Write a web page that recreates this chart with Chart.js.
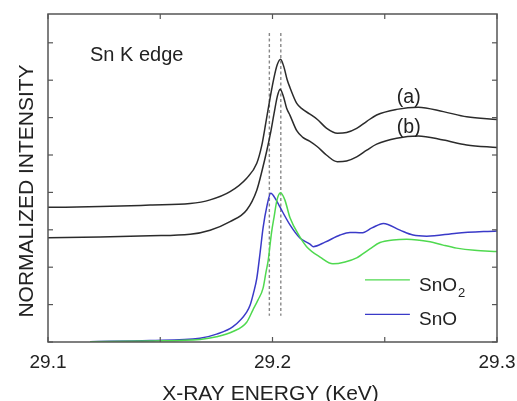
<!DOCTYPE html>
<html>
<head>
<meta charset="utf-8">
<script src="https://cdn.jsdelivr.net/npm/chart.js@4.4.1/dist/chart.umd.min.js"></script>
<style>
html,body{margin:0;padding:0;background:#fff;}
#wrap{width:517px;height:401px;}
</style>
</head>
<body>
<div id="wrap"><canvas id="c" width="517" height="401"></canvas></div>
<script>
// ---- Data ----
const energyA = [29.1000,29.1232,29.1455,29.1633,29.1722,29.1811,29.1885,29.1930,29.1952,29.1970,29.1990,29.2006,29.2021,29.2036,29.2051,29.2065,29.2078,29.2108,29.2135,29.2165,29.2200,29.2240,29.2289,29.2330,29.2375,29.2420,29.2464,29.2553,29.2649,29.2761,29.2865,29.3000];
const intensityA = [3.60,3.62,3.66,3.70,3.80,4.02,4.38,4.78,5.25,5.85,6.55,7.05,7.41,7.56,7.35,7.02,6.80,6.38,6.22,6.10,5.95,5.72,5.58,5.60,5.71,5.90,6.07,6.22,6.28,6.16,6.02,5.95];

const energyB = [29.1000,29.1232,29.1455,29.1633,29.1722,29.1811,29.1885,29.1930,29.1955,29.1974,29.1990,29.2007,29.2022,29.2034,29.2049,29.2063,29.2078,29.2108,29.2135,29.2165,29.2200,29.2240,29.2289,29.2330,29.2375,29.2420,29.2464,29.2553,29.2649,29.2761,29.2865,29.3000];
const intensityB = [2.79,2.81,2.84,2.88,2.99,3.22,3.53,4.06,4.62,5.10,5.55,6.11,6.58,6.76,6.56,6.25,6.06,5.65,5.47,5.37,5.22,5.00,4.82,4.84,4.95,5.13,5.29,5.45,5.51,5.40,5.27,5.20];

const energySnO2 = [29.1187,29.1454,29.1677,29.1751,29.1824,29.1885,29.1913,29.1935,29.1958,29.1971,29.1981,29.1996,29.2007,29.2020,29.2036,29.2055,29.2078,29.2122,29.2152,29.2212,29.2269,29.2323,29.2375,29.2434,29.2479,29.2537,29.2598,29.2702,29.2760,29.2820,29.2900,29.3000];
const intensitySnO2 = [0.01,0.03,0.07,0.14,0.28,0.53,0.86,1.12,1.44,1.87,2.19,2.94,3.34,3.80,3.99,3.80,3.32,2.81,2.55,2.27,2.09,2.14,2.25,2.49,2.66,2.73,2.75,2.68,2.59,2.51,2.45,2.42];

const energySnO = [29.1187,29.1454,29.1677,29.1751,29.1824,29.1885,29.1900,29.1915,29.1930,29.1945,29.1958,29.1976,29.1992,29.2016,29.2033,29.2078,29.2122,29.2167,29.2182,29.2234,29.2301,29.2345,29.2397,29.2443,29.2494,29.2568,29.2626,29.2687,29.2820,29.3000];
const intensitySnO = [0.01,0.04,0.10,0.21,0.41,0.80,0.98,1.30,1.70,2.40,3.05,3.66,3.98,3.80,3.61,3.13,2.78,2.62,2.55,2.67,2.86,2.93,2.92,3.05,3.17,2.99,2.86,2.83,2.91,2.97];

const xTickValues = [29.1,29.15,29.2,29.25,29.3];
const xTickLabels = ['29.1','','29.2','','29.3'];
const yTickValues = [0,1,2,3,4,5,6,7,8];
const dashedEnergies = [29.1986,29.2037];
const curveLabels = ['(a)','(b)'];
const legendNames = ['SnO','SnO'];
const legendSubs = ['2',''];
const panelText = 'Sn K edge';
const xTitle = 'X-RAY ENERGY (KeV)';
const yTitle = 'NORMALIZED INTENSITY';

const pts = (e, v) => e.map((x, i) => ({x: x, y: v[i]}));
const FONT = '"Liberation Sans", Arial, Helvetica, sans-serif';
const TXT = '#222';

const decor = {
  id: 'decor',
  beforeDatasetsDraw(chart) {
    const {ctx, scales: {x, y}} = chart;
    ctx.save();
    ctx.strokeStyle = '#888';
    ctx.lineWidth = 1.4;
    ctx.setLineDash([3, 2.5]);
    dashedEnergies.forEach(e => {
      const px = x.getPixelForValue(e);
      ctx.beginPath();
      ctx.moveTo(px, y.getPixelForValue(8.26));
      ctx.lineTo(px, y.getPixelForValue(0.70));
      ctx.stroke();
    });
    ctx.restore();
  },
  afterDraw(chart) {
    const {ctx, chartArea: a, scales: {x, y}} = chart;
    const ds = chart.data.datasets;
    ctx.save();
    ctx.strokeStyle = '#555';
    ctx.lineWidth = 1.5;
    ctx.strokeRect(a.left, a.top, a.right - a.left, a.bottom - a.top);
    ctx.lineWidth = 1.2;
    const seg = (x1, y1, x2, y2) => { ctx.beginPath(); ctx.moveTo(x1, y1); ctx.lineTo(x2, y2); ctx.stroke(); };
    x.ticks.forEach(t => {
      const px = x.getPixelForValue(t.value);
      seg(px, a.bottom, px, a.bottom - 5);
      seg(px, a.top, px, a.top + 5);
    });
    y.ticks.forEach(t => {
      const py = y.getPixelForValue(t.value);
      seg(a.left, py, a.left + 5, py);
      seg(a.right, py, a.right - 5, py);
    });
    ctx.fillStyle = TXT;
    ctx.textBaseline = 'alphabetic';
    ctx.textAlign = 'left';
    ctx.font = '20px ' + FONT;
    ctx.fillText(panelText, x.getPixelForValue(29.1187), y.getPixelForValue(7.51));
    ctx.textAlign = 'center';
    ctx.font = '19.5px ' + FONT;
    ctx.fillText(curveLabels[0], x.getPixelForValue(29.2607), y.getPixelForValue(6.40));
    ctx.fillText(curveLabels[1], x.getPixelForValue(29.2607), y.getPixelForValue(5.60));
    const legY = [1.66, 0.74];
    const legDs = [ds[2], ds[3]];
    [0, 1].forEach(i => {
      const py = y.getPixelForValue(legY[i]);
      ctx.strokeStyle = legDs[i].borderColor;
      ctx.lineWidth = 1.2;
      seg(x.getPixelForValue(29.2412), py, x.getPixelForValue(29.2612), py);
      ctx.fillStyle = TXT;
      ctx.textAlign = 'left';
      ctx.font = '19px ' + FONT;
      const tx = x.getPixelForValue(29.2653);
      ctx.fillText(legendNames[i], tx, py + 11);
      if (legendSubs[i]) {
        const w = ctx.measureText(legendNames[i]).width;
        ctx.font = '13px ' + FONT;
        ctx.fillText(legendSubs[i], tx + w + 1, py + 17);
      }
    });
    ctx.fillStyle = TXT;
    ctx.font = '21px ' + FONT;
    ctx.textAlign = 'center';
    ctx.fillText(xTitle, (a.left + a.right) / 2 - 2, 400);
    ctx.save();
    ctx.translate(33, 191);
    ctx.rotate(-Math.PI / 2);
    ctx.fillText(yTitle, 0, 0);
    ctx.restore();
    ctx.restore();
  }
};

const lineStyle = {pointRadius: 0, borderWidth: 1.5, fill: false, cubicInterpolationMode: 'monotone'};

new Chart(document.getElementById('c'), {
  type: 'line',
  data: {
    datasets: [
      Object.assign({label: '(a)', data: pts(energyA, intensityA), borderColor: '#2b2b2b'}, lineStyle),
      Object.assign({label: '(b)', data: pts(energyB, intensityB), borderColor: '#2b2b2b'}, lineStyle),
      Object.assign({label: 'SnO\u2082', data: pts(energySnO2, intensitySnO2), borderColor: '#4fd94f'}, lineStyle),
      Object.assign({label: 'SnO', data: pts(energySnO, intensitySnO), borderColor: '#3a3ac8'}, lineStyle)
    ]
  },
  options: {
    responsive: false,
    animation: false,
    devicePixelRatio: 1,
    layout: {padding: {top: 14, right: 20, left: 0, bottom: 0}},
    plugins: {legend: {display: false}, tooltip: {enabled: false}},
    scales: {
      x: {
        type: 'linear', min: 29.1, max: 29.3,
        afterBuildTicks: s => { s.ticks = xTickValues.map(v => ({value: v})); },
        afterFit: s => { s.height = 59; s.paddingLeft = 0; s.paddingRight = 0; },
        grid: {display: false, drawTicks: false},
        border: {display: false},
        ticks: {
          autoSkip: false, maxRotation: 0, padding: 9, color: TXT,
          font: {size: 19, family: FONT},
          callback: (v, i) => xTickLabels[i]
        }
      },
      y: {
        type: 'linear', min: 0, max: 8.77,
        afterBuildTicks: s => { s.ticks = yTickValues.map(v => ({value: v})); },
        afterFit: s => { s.width = 48; s.paddingTop = 0; s.paddingBottom = 0; },
        grid: {display: false, drawTicks: false},
        border: {display: false},
        ticks: {display: false}
      }
    }
  },
  plugins: [decor]
});
</script>
</body>
</html>
